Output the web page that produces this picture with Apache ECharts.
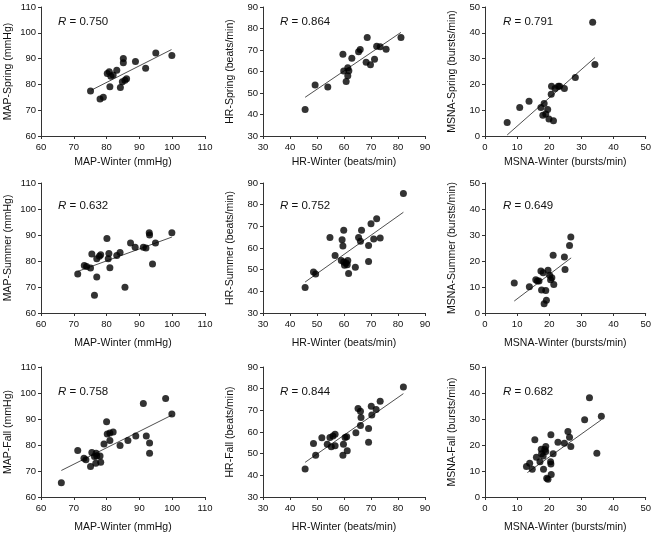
<!DOCTYPE html>
<html>
<head>
<meta charset="utf-8">
<script src="https://cdn.jsdelivr.net/npm/echarts@6/dist/echarts.min.js"></script>
<style>
  html, body { margin: 0; padding: 0; background: #fff; }
  #chart { width: 654px; height: 534px; }
</style>
</head>
<body>
<div id="chart"></div>
<script>
// winter value (x) vs. other season (y)
var mapWinterSp = [75.1, 78.0, 79.0, 81.0, 80.2, 80.8, 81.3, 82.0, 83.1, 85.1, 85.1, 84.2, 84.8, 85.6, 86.1, 88.8, 91.9, 95.0, 99.9],
    mapSpring   = [77.4, 74.3, 75.0, 79.1, 84.2, 84.9, 83.2, 83.6, 85.5, 90.0, 88.4, 78.8, 81.0, 81.6, 82.2, 88.9, 86.3, 92.2, 91.2];
var hrWinterSp = [45.6, 49.3, 54.0, 59.6, 59.9, 60.8, 61.4, 61.4, 61.8, 62.9, 65.4, 66.0, 68.2, 68.6, 69.8, 71.3, 72.1, 73.4, 75.6, 81.1],
    hrSpring   = [42.3, 53.7, 52.8, 68.0, 60.2, 55.4, 58.0, 61.8, 60.3, 66.2, 69.2, 70.2, 64.3, 75.8, 63.1, 65.7, 71.8, 71.5, 70.3, 75.8];
var msnaWinterSp = [6.9, 10.8, 13.7, 17.4, 18.4, 18.0, 18.9, 19.5, 19.9, 21.3, 20.7, 20.6, 21.8, 22.8, 23.2, 24.7, 28.1, 33.5, 34.2],
    msnaSpring   = [5.2, 11.0, 13.5, 11.0, 12.6, 8.0, 8.5, 10.3, 6.6, 5.9, 19.3, 16.2, 18.4, 19.3, 19.3, 18.4, 22.7, 44.1, 27.7];

var mapWinterSu = [71.2, 73.2, 73.9, 75.1, 75.5, 77.0, 77.0, 77.8, 78.2, 76.3, 80.1, 80.5, 80.7, 81.0, 83.1, 84.1, 85.6, 87.3, 88.7, 91.2, 92.0, 93.0, 93.1, 94.0, 94.9, 99.9],
    mapSummer   = [75.0, 78.3, 77.9, 77.3, 82.7, 73.8, 80.9, 81.8, 82.4, 66.8, 88.7, 80.9, 82.9, 77.4, 82.1, 83.3, 69.9, 86.9, 85.3, 85.3, 85.0, 90.9, 90.0, 78.8, 86.9, 90.9];
var hrWinterSu = [45.6, 48.7, 49.5, 54.8, 56.7, 59.3, 59.6, 59.9, 59.0, 59.9, 60.2, 60.8, 61.4, 61.2, 61.7, 64.2, 65.4, 66.1, 66.5, 69.1, 69.1, 70.0, 71.0, 72.1, 73.4, 82.0],
    hrSummer   = [41.8, 48.9, 48.0, 64.9, 56.5, 63.8, 60.9, 68.2, 54.2, 53.5, 52.0, 53.1, 54.2, 52.3, 48.2, 51.1, 64.9, 63.1, 68.2, 61.2, 53.8, 71.2, 64.2, 73.5, 64.6, 85.1];
var msnaWinterSu = [9.1, 13.8, 15.8, 16.3, 16.8, 17.4, 17.6, 18.1, 18.4, 18.9, 19.1, 19.6, 20.1, 20.4, 20.8, 21.4, 21.2, 24.7, 24.9, 26.3, 26.7],
    msnaSummer   = [11.5, 10.1, 12.8, 12.3, 12.3, 16.2, 8.8, 15.5, 3.6, 8.7, 4.9, 16.4, 14.5, 12.8, 13.6, 11.0, 22.2, 21.5, 16.7, 26.0, 29.2];

var mapWinterFa = [66.2, 71.2, 73.1, 73.7, 75.1, 75.5, 76.3, 76.7, 76.8, 77.0, 78.0, 78.2, 79.2, 80.0, 80.2, 81.0, 81.0, 82.0, 84.1, 86.5, 88.9, 91.2, 92.1, 93.1, 93.1, 98.0, 99.9],
    mapFall     = [65.5, 77.9, 74.9, 74.3, 71.7, 77.1, 75.6, 73.0, 76.8, 75.8, 75.8, 73.4, 80.4, 88.9, 84.2, 84.6, 81.7, 85.0, 79.8, 81.7, 83.5, 96.0, 83.5, 80.8, 76.8, 97.9, 91.9];
var hrWinterFa = [45.6, 48.7, 49.5, 51.8, 53.8, 54.8, 55.3, 55.9, 56.7, 56.7, 59.6, 59.8, 60.4, 61.0, 61.2, 64.4, 65.2, 66.1, 66.3, 66.1, 69.1, 69.1, 70.1, 70.3, 71.9, 73.4, 82.0],
    hrFall     = [42.9, 54.7, 49.3, 57.3, 54.4, 57.5, 53.2, 58.1, 59.0, 53.6, 49.3, 54.4, 57.5, 57.8, 51.3, 59.6, 70.8, 69.6, 66.7, 63.0, 61.6, 55.3, 71.9, 67.8, 70.4, 74.2, 80.8];
var msnaWinterFa = [12.9, 13.9, 14.7, 15.5, 16.0, 17.1, 17.5, 17.6, 18.1, 18.2, 18.6, 18.9, 18.9, 19.2, 19.6, 20.4, 20.5, 20.6, 20.5, 21.2, 22.7, 24.7, 25.8, 26.3, 26.7, 31.0, 32.5, 34.8, 36.2],
    msnaFall     = [11.7, 13.0, 10.7, 22.0, 15.3, 13.6, 18.4, 16.6, 15.8, 10.7, 18.3, 19.4, 17.5, 7.2, 6.8, 13.6, 12.7, 8.7, 23.9, 16.6, 21.1, 20.7, 25.2, 23.0, 19.4, 29.7, 38.2, 16.8, 31.1];

// regression line ends
var fitMapSpring = [[75.4, 77.8], [99.8, 93.5]],
    fitHrSpring = [[45.6, 48.0], [81.1, 78.2]],
    fitMsnaSpring = [[6.9, 0.4], [34.2, 30.4]],
    fitMapSummer = [[71.2, 76.0], [99.9, 89.2]],
    fitHrSummer = [[45.6, 44.3], [82.0, 76.5]],
    fitMsnaSummer = [[9.1, 4.6], [26.8, 21.2]],
    fitMapFall = [[66.2, 70.2], [99.9, 91.5]],
    fitHrFall = [[45.6, 46.0], [82.0, 77.7]],
    fitMsnaFall = [[13.2, 9.4], [36.2, 29.7]];

var rValues = ["0.750", "0.864", "0.791", "0.632", "0.752", "0.649", "0.758", "0.844", "0.682"];
var xNames = ["MAP-Winter (mmHg)", "HR-Winter (beats/min)", "MSNA-Winter (bursts/min)"];
var yNames = ["MAP-Spring (mmHg)", "HR-Spring (beats/min)", "MSNA-Spring (bursts/min)",
              "MAP-Summer (mmHg)", "HR-Summer (beats/min)", "MSNA-Summer (bursts/min)",
              "MAP-Fall (mmHg)", "HR-Fall (beats/min)", "MSNA-Fall (bursts/min)"];
var ranges = [[60, 110], [30, 90], [0, 50]];

var panels = [
    [mapWinterSp, mapSpring, fitMapSpring], [hrWinterSp, hrSpring, fitHrSpring], [msnaWinterSp, msnaSpring, fitMsnaSpring],
    [mapWinterSu, mapSummer, fitMapSummer], [hrWinterSu, hrSummer, fitHrSummer], [msnaWinterSu, msnaSummer, fitMsnaSummer],
    [mapWinterFa, mapFall, fitMapFall], [hrWinterFa, hrFall, fitHrFall], [msnaWinterFa, msnaFall, fitMsnaFall]
];

var colLeft = [41, 263, 485], colWidth = [164, 162, 162],
    rowTop = [7, 183, 367], rowHeight = [129, 130, 130],
    xNameGap = [21, 25, 25],
    rTextTop = [23, 207, 393], rTextLeft = [58, 280, 503];

var font = "'Liberation Sans', Arial, sans-serif",
    ink = "#111";

var grid = [], xAxis = [], yAxis = [], series = [], graphic = [];

panels.forEach(function(p, i) {
    var r = Math.floor(i / 3), c = i % 3, rg = ranges[c];
    grid.push({ left: colLeft[c], top: rowTop[r], width: colWidth[c], height: rowHeight[r] });
    var axisCommon = {
        gridIndex: i, type: "value", min: rg[0], max: rg[1], interval: 10,
        nameLocation: "middle",
        nameTextStyle: { fontFamily: font, fontSize: 10.5, color: ink },
        axisLine: { show: true, onZero: false, lineStyle: { color: "#333", width: 1 } },
        axisTick: { show: true, inside: false, length: 3, lineStyle: { color: "#333" } },
        axisLabel: { fontFamily: font, fontSize: 9.5, color: ink },
        splitLine: { show: false }
    };
    xAxis.push(Object.assign({}, axisCommon, {
        name: xNames[c], nameGap: xNameGap[r],
        axisLabel: Object.assign({}, axisCommon.axisLabel, { margin: 6 })
    }));
    yAxis.push(Object.assign({}, axisCommon, {
        name: yNames[i], nameGap: 27,
        axisLabel: Object.assign({}, axisCommon.axisLabel, { margin: 5 })
    }));
    series.push({
        type: "scatter", xAxisIndex: i, yAxisIndex: i,
        symbolSize: 7, itemStyle: { color: "#000" },
        data: p[0].map(function(x, k) { return [x, p[1][k]]; }),
        z: 3
    });
    series.push({
        type: "line", xAxisIndex: i, yAxisIndex: i,
        symbol: "none", silent: true,
        lineStyle: { color: "#222", width: 0.8 },
        data: p[2], z: 2
    });
    graphic.push({
        type: "text", left: rTextLeft[c], top: rTextTop[r] - 7,
        style: {
            text: "{i|R} = " + rValues[i],
            fontFamily: font, fontSize: 11.5, fill: ink,
            rich: { i: { fontStyle: "italic", fontFamily: font, fontSize: 11.5, fill: ink } }
        }
    });
});

var chart = echarts.init(document.getElementById("chart"), null, { renderer: "canvas" });
chart.setOption({
    animation: false,
    backgroundColor: "#fff",
    grid: grid,
    xAxis: xAxis,
    yAxis: yAxis,
    series: series,
    graphic: graphic
});
</script>
</body>
</html>
